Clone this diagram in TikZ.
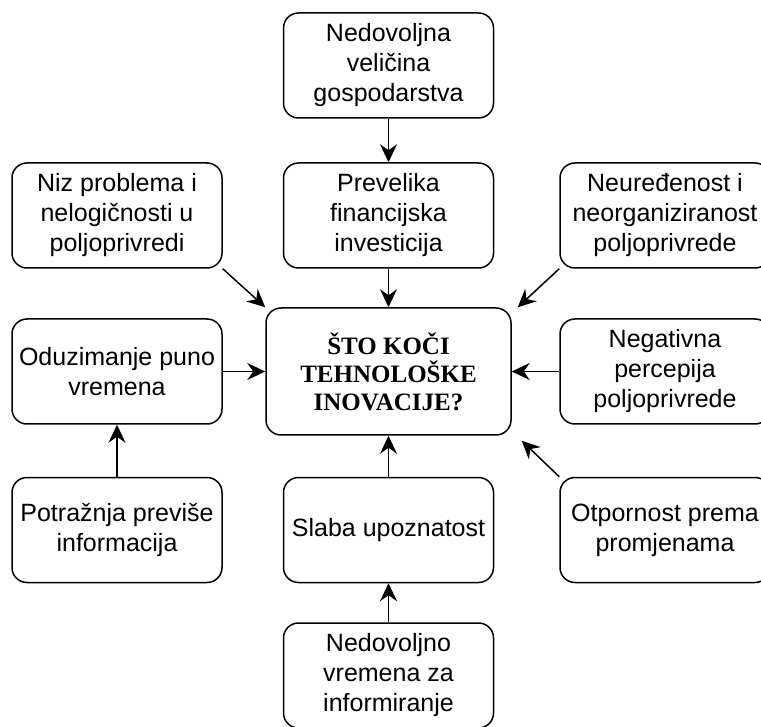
\documentclass[tikz,border=0pt]{standalone}
\usepackage{fontspec}
\setmainfont{Liberation Sans}
\newfontfamily\coreserif{Liberation Serif}
\usetikzlibrary{arrows.meta}
\tikzset{
	causebox/.style={draw, line width=1.5pt, rounded corners=15pt, minimum width=210pt, minimum height=105pt, align=center, inner sep=0pt, font=\fontsize{25}{30}\selectfont},
	corebox/.style={causebox, minimum width=245pt, minimum height=127pt, font=\coreserif\bfseries\fontsize{25}{28}\selectfont},
	arr/.style={line width=1.5pt, -{Stealth[length=18pt,width=17pt,inset=6pt]}},
}
\begin{document}
\begin{tikzpicture}[x=1pt,y=-1pt]
		\clip (0,0) rectangle (761,727);
		% middle
		\node[corebox] (core) at (388.5,371.5) {ŠTO KOČI\\TEHNOLOŠKE\\INOVACIJE?};
		% middle column
		\node[causebox] (size) at (388.5,65.5) {Nedovoljna\\veličina\\gospodarstva};
		\node[causebox] (invest) at (388.5,215.5) {Prevelika\\financijska\\investicija};
		\node[causebox] (aware) at (388.5,530) {Slaba upoznatost};
		\node[causebox] (lack) at (388.5,675.5) {Nedovoljno\\vremena za\\informiranje};
		% left column
		\node[causebox] (niz) at (117,215.5) {Niz problema i\\nelogičnosti u\\poljoprivredi};
		\node[causebox] (time) at (117,371.5) {Oduzimanje puno\\vremena};
		\node[causebox] (info) at (117,530) {Potražnja previše\\informacija};
		% right column
		\node[causebox] (disorder) at (665,215.5) {Neuređenost i\\neorganiziranost\\poljoprivrede};
		\node[causebox] (percep) at (665,371.5) {Negativna\\percepija\\poljoprivrede};
		\node[causebox] (resist) at (665,530) {Otpornost prema\\promjenama};
		% arrows
		\draw[arr] (size) -- (invest);
		\draw[arr] (invest) -- (core);
		\draw[arr] (lack) -- (aware);
		\draw[arr] (aware) -- (core);
		\draw[arr] (info) -- (time);
		\draw[arr] (time) -- (core);
		\draw[arr] (percep) -- (core);
		\draw[arr] (niz.south east) -- (core.north west);
		\draw[arr] (disorder.south west) -- ([xshift=6pt]core.north east);
		\draw[arr] (resist.north west) -- ([xshift=10pt,yshift=-5pt]core.south east);
	\end{tikzpicture}
\end{document}
